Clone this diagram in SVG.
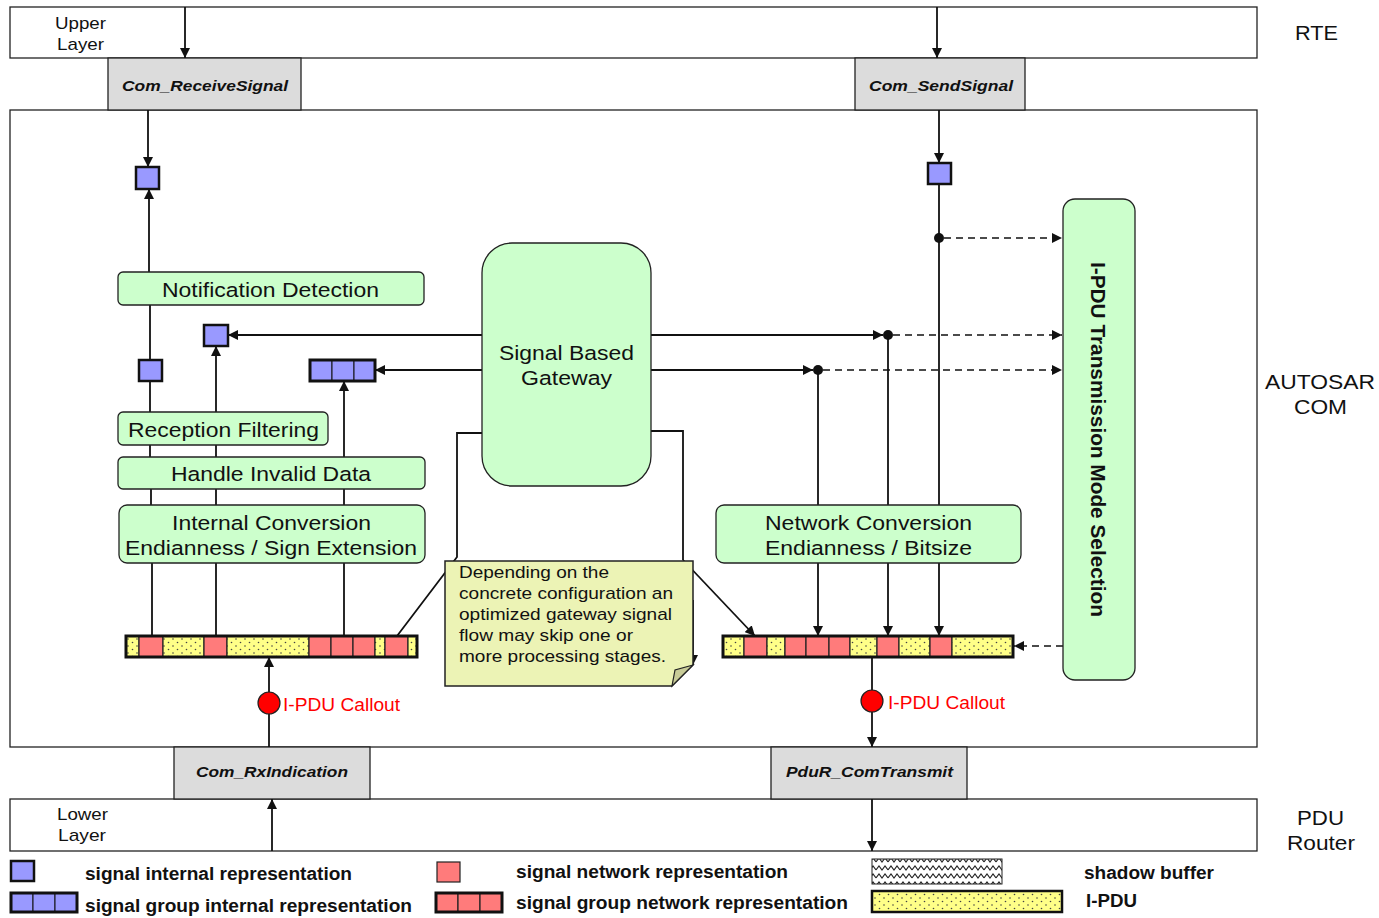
<svg xmlns="http://www.w3.org/2000/svg" width="1379" height="918" viewBox="0 0 1379 918">
<style>
.lay{fill:#fff;stroke:#222;stroke-width:1.3}
.api{fill:#dcdcdc;stroke:#222;stroke-width:1.3}
.apit{font-family:"Liberation Sans",Arial,sans-serif;font-size:15.5px;font-weight:bold;font-style:italic;fill:#111;text-anchor:middle}
.lt{font-family:"Liberation Sans",Arial,sans-serif;font-size:17px;fill:#111;text-anchor:middle}
.side{font-family:"Liberation Sans",Arial,sans-serif;font-size:20px;fill:#111;text-anchor:middle}
.proc{fill:#ccffcc;stroke:#222;stroke-width:1.3}
.pt{font-family:"Liberation Sans",Arial,sans-serif;font-size:20.5px;fill:#111;text-anchor:middle}
.sq{fill:#9999ff;stroke:#111;stroke-width:2.5}
.cellb{fill:#9999ff;stroke:#111;stroke-width:1}
.red{fill:#ff7b7b;stroke:#222;stroke-width:1.2}
.yel{fill:url(#dots);stroke:#222;stroke-width:1.2}
.frame{fill:none;stroke:#111;stroke-width:3}
.ln{fill:none;stroke:#111;stroke-width:1.8}
.arr{fill:none;stroke:#111;stroke-width:1.8;marker-end:url(#ah)}
.dash{fill:none;stroke:#111;stroke-width:1.6;stroke-dasharray:7,5;marker-end:url(#ah)}
.co{fill:#ff0000;stroke:#222;stroke-width:1.2}
.cot{font-family:"Liberation Sans",Arial,sans-serif;font-size:17.5px;fill:#ff0000}
.leg{font-family:"Liberation Sans",Arial,sans-serif;font-size:17.5px;font-weight:bold;fill:#111}
.nt{font-family:"Liberation Sans",Arial,sans-serif;font-size:17px;fill:#111}
</style>
<defs>
<marker id="ah" viewBox="0 0 10 10" refX="10" refY="5" markerWidth="10" markerHeight="10" markerUnits="userSpaceOnUse" orient="auto"><path d="M0,0 L10,5 L0,10 z" fill="#111"/></marker>
<pattern id="dots" width="9" height="7" patternUnits="userSpaceOnUse"><rect width="9" height="7" fill="#ffff88"/><circle cx="2" cy="2" r="0.8" fill="#444"/><circle cx="6.5" cy="5.5" r="0.8" fill="#444"/></pattern>
<pattern id="zig" width="12" height="8" patternUnits="userSpaceOnUse"><rect width="12" height="8" fill="#fff"/><path d="M0,6 L3,2 L6,6 L9,2 L12,6" fill="none" stroke="#222" stroke-width="1.1"/></pattern>
</defs>

<g id="layers">
<rect class="lay" x="10" y="7" width="1247" height="51"/>
<text class="lt" x="80.5" y="29" textLength="51" lengthAdjust="spacingAndGlyphs">Upper</text><text class="lt" x="80.5" y="50" textLength="47" lengthAdjust="spacingAndGlyphs">Layer</text>
<rect class="lay" x="10" y="110" width="1247" height="637"/>
<rect class="lay" x="10" y="799" width="1247" height="52"/>
<text class="lt" x="82.5" y="820" textLength="51" lengthAdjust="spacingAndGlyphs">Lower</text><text class="lt" x="82" y="841" textLength="48" lengthAdjust="spacingAndGlyphs">Layer</text>
<text class="side" x="1316.5" y="40" textLength="43" lengthAdjust="spacingAndGlyphs">RTE</text>
<text class="side" x="1320" y="389" textLength="110" lengthAdjust="spacingAndGlyphs">AUTOSAR</text><text class="side" x="1320.5" y="414" textLength="53" lengthAdjust="spacingAndGlyphs">COM</text>
<text class="side" x="1320.5" y="825" textLength="47" lengthAdjust="spacingAndGlyphs">PDU</text><text class="side" x="1321" y="850" textLength="68" lengthAdjust="spacingAndGlyphs">Router</text>
</g>

<g id="api-receive"><rect class="api" x="108" y="58" width="193" height="52"/><text class="apit" x="205" y="91" textLength="166" lengthAdjust="spacingAndGlyphs">Com_ReceiveSignal</text></g>
<g id="api-send"><rect class="api" x="855" y="58" width="170" height="52"/><text class="apit" x="941" y="91" textLength="144" lengthAdjust="spacingAndGlyphs">Com_SendSignal</text></g>
<g id="api-rxind"><rect class="api" x="174" y="747" width="196" height="52"/><text class="apit" x="272" y="777" textLength="152" lengthAdjust="spacingAndGlyphs">Com_RxIndication</text></g>
<g id="api-transmit"><rect class="api" x="771" y="747" width="196" height="52"/><text class="apit" x="869.5" y="777" textLength="167" lengthAdjust="spacingAndGlyphs">PduR_ComTransmit</text></g>

<g id="connectors">
<path class="arr" d="M185,7 V58"/>
<path class="arr" d="M937,7 V58"/>
<path class="arr" d="M148,110 V167"/>
<path class="arr" d="M149,272 V189"/>
<path class="ln" d="M150,305 V360 M150,381 V412 M150,445 V457 M151,489 V505 M152,563 V636"/>
<path class="arr" d="M482,335 H228"/>
<path class="arr" d="M216,636 V346"/>
<path class="arr" d="M482,370 H375"/>
<path class="arr" d="M344,636 V381"/>
<path class="ln" d="M482,433 H457 V557 L397,636"/>
<path class="ln" d="M651,431 H683 V560"/>
<path class="arr" d="M683,560 L755,636"/>
<path class="arr" d="M693,600 V665"/>
<path class="arr" d="M939,110 V163"/>
<path class="arr" d="M939,184 V636"/>
<circle cx="939" cy="238" r="5" fill="#111"/>
<path class="dash" d="M944,238 H1062"/>
<path class="arr" d="M651,335 H883"/>
<circle cx="888" cy="335" r="5" fill="#111"/>
<path class="dash" d="M893,335 H1062"/>
<path class="arr" d="M888,335 V636"/>
<path class="arr" d="M651,370 H813"/>
<circle cx="818" cy="370" r="5" fill="#111"/>
<path class="dash" d="M823,370 H1062"/>
<path class="arr" d="M818,370 V636"/>
<path class="dash" d="M1063,646 H1014"/>
<path class="arr" d="M269,747 V657"/>
<path class="arr" d="M872,657 V747"/>
<path class="arr" d="M872,799 V851"/>
<path class="arr" d="M272,851 V799"/>
</g>

<g id="notification-detection"><rect class="proc" x="118" y="272" width="306" height="33" rx="5"/><text class="pt" x="270.5" y="297" textLength="217" lengthAdjust="spacingAndGlyphs">Notification Detection</text></g>
<g id="reception-filtering"><rect class="proc" x="118" y="412" width="210" height="33" rx="5"/><text class="pt" x="223.5" y="437" textLength="191" lengthAdjust="spacingAndGlyphs">Reception Filtering</text></g>
<g id="handle-invalid"><rect class="proc" x="118" y="457" width="307" height="32" rx="5"/><text class="pt" x="271" y="481" textLength="200" lengthAdjust="spacingAndGlyphs">Handle Invalid Data</text></g>
<g id="internal-conversion"><rect class="proc" x="119" y="505" width="306" height="58" rx="8"/><text class="pt" x="271.5" y="530" textLength="199" lengthAdjust="spacingAndGlyphs">Internal Conversion</text><text class="pt" x="271" y="555" textLength="292" lengthAdjust="spacingAndGlyphs">Endianness / Sign Extension</text></g>
<g id="gateway"><rect class="proc" x="482" y="243" width="169" height="243" rx="30"/><text class="pt" x="566.5" y="360" textLength="135" lengthAdjust="spacingAndGlyphs">Signal Based</text><text class="pt" x="566.5" y="385" textLength="91" lengthAdjust="spacingAndGlyphs">Gateway</text></g>
<g id="network-conversion"><rect class="proc" x="716" y="505" width="305" height="58" rx="8"/><text class="pt" x="868.5" y="530" textLength="207" lengthAdjust="spacingAndGlyphs">Network Conversion</text><text class="pt" x="868.5" y="555" textLength="207" lengthAdjust="spacingAndGlyphs">Endianness / Bitsize</text></g>
<g id="tx-mode"><rect class="proc" x="1063" y="199" width="72" height="481" rx="12"/><text class="pt" font-weight="bold" transform="translate(1091,439.5) rotate(90)" textLength="355" lengthAdjust="spacingAndGlyphs">I-PDU Transmission Mode Selection</text></g>

<g id="sig-rx-top"><rect class="sq" x="136" y="167" width="23" height="22"/></g>
<g id="sig-rx-nd"><rect class="sq" x="139" y="360" width="23" height="21"/></g>
<g id="sig-gw-1"><rect class="sq" x="204" y="325" width="24" height="21"/></g>
<g id="sig-gw-group"><rect class="cellb" x="310" y="360" width="22" height="21"/><rect class="cellb" x="332" y="360" width="22" height="21"/><rect class="cellb" x="354" y="360" width="21" height="21"/><rect class="frame" x="310" y="360" width="65" height="21"/></g>
<g id="sig-tx-top"><rect class="sq" x="928" y="163" width="23" height="21"/></g>

<g id="ipdu-rx">
<rect class="yel" x="126" y="636" width="13" height="21"/><rect class="red" x="139" y="636" width="24" height="21"/>
<rect class="yel" x="163" y="636" width="41" height="21"/><rect class="red" x="204" y="636" width="23" height="21"/>
<rect class="yel" x="227" y="636" width="82" height="21"/><rect class="red" x="309" y="636" width="22" height="21"/>
<rect class="red" x="331" y="636" width="22" height="21"/><rect class="red" x="353" y="636" width="22" height="21"/>
<rect class="yel" x="375" y="636" width="10" height="21"/><rect class="red" x="385" y="636" width="23" height="21"/>
<rect class="yel" x="408" y="636" width="9" height="21"/>
<rect class="frame" x="126" y="636" width="291" height="21"/>
</g>
<g id="ipdu-tx">
<rect class="yel" x="723" y="636" width="21" height="21"/><rect class="red" x="744" y="636" width="23" height="21"/>
<rect class="yel" x="767" y="636" width="18" height="21"/><rect class="red" x="785" y="636" width="21" height="21"/>
<rect class="red" x="806" y="636" width="23" height="21"/><rect class="red" x="829" y="636" width="21" height="21"/>
<rect class="yel" x="850" y="636" width="27" height="21"/><rect class="red" x="877" y="636" width="22" height="21"/>
<rect class="yel" x="899" y="636" width="31" height="21"/><rect class="red" x="930" y="636" width="22" height="21"/>
<rect class="yel" x="952" y="636" width="61" height="21"/>
<rect class="frame" x="723" y="636" width="290" height="21"/>
</g>

<g id="callout-rx"><circle class="co" cx="269" cy="703" r="11"/><text class="cot" x="283" y="711" textLength="117" lengthAdjust="spacingAndGlyphs">I-PDU Callout</text></g>
<g id="callout-tx"><circle class="co" cx="872" cy="701" r="11"/><text class="cot" x="888" y="709" textLength="117" lengthAdjust="spacingAndGlyphs">I-PDU Callout</text></g>

<g id="note">
<path d="M445,561 H693 V665 L672,686 H445 Z" fill="#ecf3b5" stroke="#222" stroke-width="1.5"/>
<path d="M693,665 L675,670 L672,686 Z" fill="#c8cc98" stroke="#222" stroke-width="1.2"/>
<text class="nt" x="459" y="578" textLength="150" lengthAdjust="spacingAndGlyphs">Depending on the</text>
<text class="nt" x="459" y="599" textLength="214" lengthAdjust="spacingAndGlyphs">concrete configuration an</text>
<text class="nt" x="459" y="620" textLength="213" lengthAdjust="spacingAndGlyphs">optimized gateway signal</text>
<text class="nt" x="459" y="641" textLength="174" lengthAdjust="spacingAndGlyphs">flow may skip one or</text>
<text class="nt" x="459" y="662" textLength="207" lengthAdjust="spacingAndGlyphs">more processing stages.</text>
</g>

<g id="legend">
<rect class="sq" x="11" y="861" width="23" height="20"/>
<text class="leg" x="85" y="880" textLength="267" lengthAdjust="spacingAndGlyphs">signal internal representation</text>
<rect class="cellb" x="11" y="893" width="22" height="19"/><rect class="cellb" x="33" y="893" width="22" height="19"/><rect class="cellb" x="55" y="893" width="22" height="19"/>
<rect class="frame" x="11" y="893" width="66" height="19"/>
<text class="leg" x="85" y="912" textLength="327" lengthAdjust="spacingAndGlyphs">signal group internal representation</text>
<rect class="red" x="437" y="862" width="23" height="20" stroke-width="2.5"/>
<text class="leg" x="516" y="878" textLength="272" lengthAdjust="spacingAndGlyphs">signal network representation</text>
<rect class="red" x="436" y="893" width="22" height="19"/><rect class="red" x="458" y="893" width="22" height="19"/><rect class="red" x="480" y="893" width="22" height="19"/>
<rect class="frame" x="436" y="893" width="66" height="19"/>
<text class="leg" x="516" y="909" textLength="332" lengthAdjust="spacingAndGlyphs">signal group network representation</text>
<rect x="872" y="859" width="130" height="25" fill="url(#zig)" stroke="#222" stroke-width="1"/>
<text class="leg" x="1084" y="879" textLength="130" lengthAdjust="spacingAndGlyphs">shadow buffer</text>
<rect x="872" y="891" width="190" height="21" fill="url(#dots)" stroke="#111" stroke-width="2.5"/>
<text class="leg" x="1086" y="907" textLength="51" lengthAdjust="spacingAndGlyphs">I-PDU</text>
</g>
</svg>
